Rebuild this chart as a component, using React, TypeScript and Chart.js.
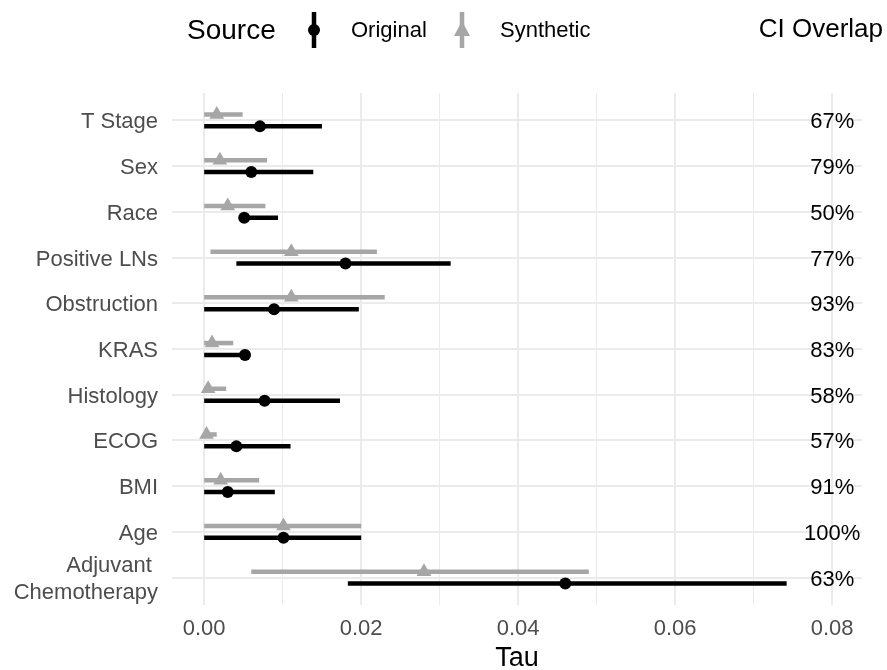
import React, { useEffect, useRef } from "react";
import { Chart, registerables } from "chart.js";

Chart.register(...registerables);

const categories = [
  "T Stage",
  "Sex",
  "Race",
  "Positive LNs",
  "Obstruction",
  "KRAS",
  "Histology",
  "ECOG",
  "BMI",
  "Age",
  "Adjuvant Chemotherapy",
];

const originalEst = [0.0071, 0.006, 0.0051, 0.018, 0.0089, 0.0052, 0.0077, 0.0041, 0.003, 0.0101, 0.046];
const originalLo = [0.0, 0.0, 0.0046, 0.0041, 0.0, 0.0, 0.0, 0.0, 0.0, 0.0, 0.0183];
const originalHi = [0.015, 0.0139, 0.0094, 0.0314, 0.0197, 0.0052, 0.0173, 0.011, 0.009, 0.02, 0.0742];

const syntheticEst = [0.0016, 0.002, 0.003, 0.0111, 0.0111, 0.001, 0.0005, 0.0003, 0.0021, 0.0101, 0.028];
const syntheticLo = [0.0, 0.0, 0.0, 0.0008, 0.0, 0.0, 0.0, 0.0, 0.0, 0.0, 0.006];
const syntheticHi = [0.0049, 0.008, 0.0078, 0.022, 0.023, 0.0037, 0.0028, 0.0016, 0.007, 0.02, 0.049];

const ciOverlap = [67, 79, 50, 77, 93, 83, 58, 57, 91, 100, 63];

const xTicks = [0, 0.01, 0.02, 0.03, 0.04, 0.05, 0.06, 0.07, 0.08];

const FONT = "'Liberation Sans', Arial, sans-serif";
const BLACK = "#000000";
const GREY = "#a6a6a6";
const DODGE = 0.13;

function tickLabel(i: number): string | string[] {
  const c = categories[i];
  if (c === "Adjuvant Chemotherapy") return ["Adjuvant ", "Chemotherapy"];
  return c ?? "";
}

const overlayPlugin = {
  id: "overlay",
  afterDatasetsDraw(chart: any) {
    const { ctx, scales } = chart;
    const xs = scales.x;
    const ys = scales.y;
    ctx.save();
    ctx.fillStyle = "#000";
    ctx.font = `22px ${FONT}`;
    ctx.textAlign = "center";
    ctx.textBaseline = "middle";
    ciOverlap.forEach((v, i) => {
      ctx.fillText(`${v}%`, xs.getPixelForValue(0.08), ys.getPixelForValue(i) + 2);
    });
    ctx.restore();
  },
  afterDraw(chart: any) {
    const { ctx } = chart;
    ctx.save();
    ctx.textBaseline = "middle";
    ctx.fillStyle = "#000";
    ctx.textAlign = "left";
    ctx.font = `28px ${FONT}`;
    ctx.fillText("Source", 187, 31);
    // Original key
    ctx.strokeStyle = BLACK;
    ctx.lineWidth = 4.5;
    ctx.beginPath();
    ctx.moveTo(314, 12);
    ctx.lineTo(314, 48);
    ctx.stroke();
    ctx.beginPath();
    ctx.arc(314, 30, 6, 0, Math.PI * 2);
    ctx.fillStyle = BLACK;
    ctx.fill();
    ctx.font = `22px ${FONT}`;
    ctx.fillText("Original", 351, 31);
    // Synthetic key
    ctx.strokeStyle = GREY;
    ctx.beginPath();
    ctx.moveTo(462, 12);
    ctx.lineTo(462, 48);
    ctx.stroke();
    ctx.fillStyle = GREY;
    ctx.beginPath();
    ctx.moveTo(462, 21);
    ctx.lineTo(470, 36);
    ctx.lineTo(454, 36);
    ctx.closePath();
    ctx.fill();
    ctx.fillStyle = "#000";
    ctx.fillText("Synthetic", 500, 31);
    ctx.textAlign = "right";
    ctx.font = `26px ${FONT}`;
    ctx.fillText("CI Overlap", 883, 30);
    ctx.restore();
  },
};

export default function App() {
  const ref = useRef<HTMLCanvasElement | null>(null);

  useEffect(() => {
    if (!ref.current) return;

    const lineDatasets: any[] = [];
    categories.forEach((_, i) => {
      lineDatasets.push({
        type: "line",
        data: [
          { x: syntheticLo[i], y: i - DODGE },
          { x: syntheticHi[i], y: i - DODGE },
        ],
        borderColor: GREY,
        borderWidth: 4.5,
        pointRadius: 0,
        borderCapStyle: "butt",
        order: 2,
      });
      lineDatasets.push({
        type: "line",
        data: [
          { x: originalLo[i], y: i + DODGE },
          { x: originalHi[i], y: i + DODGE },
        ],
        borderColor: BLACK,
        borderWidth: 4.5,
        pointRadius: 0,
        borderCapStyle: "butt",
        order: 2,
      });
    });

    const chart = new Chart(ref.current, {
      type: "scatter",
      data: {
        datasets: [
          {
            label: "Original",
            data: originalEst.map((v, i) => ({ x: v, y: i + DODGE })),
            pointStyle: "circle",
            pointRadius: 6,
            backgroundColor: BLACK,
            borderColor: BLACK,
            borderWidth: 0,
            order: 0,
          } as any,
          {
            label: "Synthetic",
            data: syntheticEst.map((v, i) => ({ x: v, y: i - DODGE })),
            pointStyle: "triangle",
            pointRadius: 8.5,
            backgroundColor: GREY,
            borderColor: GREY,
            borderWidth: 0,
            order: 1,
          } as any,
          ...lineDatasets,
        ],
      },
      options: {
        animation: false,
        responsive: false,
        maintainAspectRatio: false,
        layout: { padding: { top: 93, right: 25, left: 0, bottom: 0 } },
        plugins: {
          legend: { display: false },
          tooltip: { enabled: false },
          title: { display: false },
        },
        scales: {
          x: {
            type: "linear",
            min: -0.0041,
            max: 0.0838,
            afterBuildTicks: (scale: any) => {
              scale.ticks = xTicks.map((v) => ({ value: v }));
            },
            afterFit: (scale: any) => {
              scale.height = 65;
            },
            border: { display: false },
            grid: {
              color: "#ebebeb",
              lineWidth: (ctx: any) => {
                const v = ctx.tick ? ctx.tick.value : 0;
                return Math.round(v * 100) % 2 === 0 ? 2 : 1;
              },
              drawTicks: false,
            },
            ticks: {
              autoSkip: false,
              maxRotation: 0,
              padding: 11,
              color: "#4d4d4d",
              font: { family: FONT, size: 22 },
              callback: (v: any) => {
                const n = Number(v);
                return Math.round(n * 100) % 2 === 0 ? n.toFixed(2) : "";
              },
            },
            title: {
              display: true,
              text: "Tau",
              color: "#000",
              font: { family: FONT, size: 27, lineHeight: 1 },
              padding: { top: 0, bottom: -2 },
            },
          },
          y: {
            type: "linear",
            reverse: true,
            min: -0.6,
            max: 10.6,
            afterBuildTicks: (scale: any) => {
              scale.ticks = categories.map((_, i) => ({ value: i }));
            },
            afterFit: (scale: any) => {
              scale.width = 172;
            },
            border: { display: false },
            grid: {
              color: "#ebebeb",
              lineWidth: 2,
              drawTicks: false,
            },
            ticks: {
              autoSkip: false,
              padding: 14,
              labelOffset: 2,
              color: "#4d4d4d",
              font: { family: FONT, size: 22, lineHeight: 1.2 },
              callback: (v: any) => tickLabel(Number(v)),
            },
          },
        },
      },
      plugins: [overlayPlugin],
    } as any);

    return () => chart.destroy();
  }, []);

  return (
    <div style={{ position: "fixed", left: 0, top: 0, width: 887, height: 670, background: "#fff" }}>
      <canvas ref={ref} width={887} height={670} style={{ display: "block" }} />
    </div>
  );
}
